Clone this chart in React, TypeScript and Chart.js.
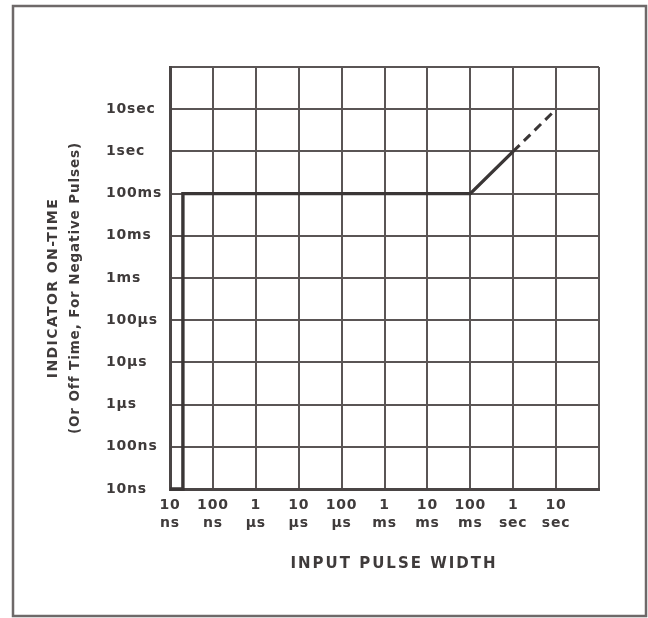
import React, { useEffect, useRef } from "react";
import { Chart, registerables } from "chart.js";

Chart.register(...registerables);

// Decade tick values (seconds) for both axes
const xTickValues = [1e-8, 1e-7, 1e-6, 1e-5, 1e-4, 1e-3, 1e-2, 1e-1, 1, 10, 100];
const yTickValues = [1e-8, 1e-7, 1e-6, 1e-5, 1e-4, 1e-3, 1e-2, 1e-1, 1, 10, 100];

const xTickLabels: (string | string[])[] = [
  ["10", "ns"],
  ["100", "ns"],
  ["1", "µs"],
  ["10", "µs"],
  ["100", "µs"],
  ["1", "ms"],
  ["10", "ms"],
  ["100", "ms"],
  ["1", "sec"],
  ["10", "sec"],
  "",
];
const yTickLabels = ["10ns", "100ns", "1µs", "10µs", "100µs", "1ms", "10ms", "100ms", "1sec", "10sec", ""];

// Solid response curve (input pulse width -> indicator on-time), seconds
const solidX = [1e-8, 2e-8, 2e-8, 0.1, 1];
const solidY = [1e-8, 1e-8, 0.1, 0.1, 1];
// Dashed extension
const dashedX = [1, 10];
const dashedY = [1, 10];

const xTitle = "INPUT PULSE WIDTH";
const yTitle1 = "INDICATOR ON-TIME";
const yTitle2 = "(Or Off Time, For Negative Pulses)";

const FONT = "'DejaVu Sans', sans-serif";
const TEXT = "#3f3b3b";
const GRID = "#5a5555";
const BORDER = "#4a4545";
const LINE = "#3a3636";
const FRAME = "#6e6969";

const decorPlugin = {
  id: "decor",
  beforeDraw(chart: any) {
    const ctx = chart.ctx;
    ctx.letterSpacing = "0.8px";
  },
  afterDraw(chart: any) {
    const ctx = chart.ctx;
    ctx.save();
    // outer frame
    ctx.strokeStyle = FRAME;
    ctx.lineWidth = 2.5;
    ctx.strokeRect(13, 6, 633, 610);

    ctx.fillStyle = TEXT;
    ctx.textBaseline = "middle";
    ctx.textAlign = "center";
    // x title
    ctx.font = `bold 15px ${FONT}`;
    ctx.letterSpacing = "2px";
    ctx.fillText(xTitle, 394, 564);

    // y titles
    ctx.translate(53, 288);
    ctx.rotate(-Math.PI / 2);
    ctx.font = `bold 14px ${FONT}`;
    ctx.letterSpacing = "1.4px";
    ctx.fillText(yTitle1, 0, 0);
    ctx.font = `bold 13.5px ${FONT}`;
    ctx.letterSpacing = "0.9px";
    ctx.fillText(yTitle2, 0, 22);
    ctx.restore();
    ctx.letterSpacing = "0px";
  },
};

export default function App() {
  const ref = useRef<HTMLCanvasElement | null>(null);

  useEffect(() => {
    if (!ref.current) return;
    const chart = new Chart(ref.current, {
      type: "scatter",
      data: {
        datasets: [
          {
            data: solidX.map((x, i) => ({ x, y: solidY[i] })),
            showLine: true,
            borderColor: LINE,
            borderWidth: 3.4,
            pointRadius: 0,
            fill: false,
            clip: false as any,
          },
          {
            data: dashedX.map((x, i) => ({ x, y: dashedY[i] })),
            showLine: true,
            borderColor: LINE,
            borderWidth: 3,
            borderDash: [9, 6],
            pointRadius: 0,
            fill: false,
          },
        ],
      },
      options: {
        animation: false,
        responsive: false,
        layout: { padding: { left: 106, right: 49, top: 67, bottom: 0 } },
        plugins: { legend: { display: false }, tooltip: { enabled: false } },
        scales: {
          x: {
            type: "logarithmic",
            min: 1e-8,
            max: 100,
            afterBuildTicks: (s: any) => {
              s.ticks = xTickValues.map((v) => ({ value: v }));
            },
            afterFit: (s: any) => {
              s.height = 618 - 489;
            },
            grid: { color: GRID, lineWidth: 2, drawTicks: false },
            border: { display: true, color: BORDER, width: 3 },
            ticks: {
              autoSkip: false,
              maxRotation: 0,
              minRotation: 0,
              padding: 7,
              color: TEXT,
              font: { family: FONT, size: 14, weight: "bold", lineHeight: 1.3 },
              callback: (_v: any, i: number) => xTickLabels[i],
            },
          },
          y: {
            type: "logarithmic",
            min: 1e-8,
            max: 100,
            afterBuildTicks: (s: any) => {
              s.ticks = yTickValues.map((v) => ({ value: v }));
            },
            afterFit: (s: any) => {
              s.width = 170 - 106;
            },
            grid: { color: GRID, lineWidth: 2, drawTicks: false },
            border: { display: true, color: BORDER, width: 3 },
            ticks: {
              autoSkip: false,
              crossAlign: "far",
              color: TEXT,
              font: { family: FONT, size: 14, weight: "bold" },
              callback: (_v: any, i: number) => yTickLabels[i],
            },
          },
        },
      } as any,
      plugins: [decorPlugin],
    });
    return () => chart.destroy();
  }, []);

  return (
    <div style={{ position: "absolute", left: 0, top: 0, width: 648, height: 618, background: "#fff" }}>
      <canvas ref={ref} width={648} height={618} style={{ display: "block" }} />
    </div>
  );
}
